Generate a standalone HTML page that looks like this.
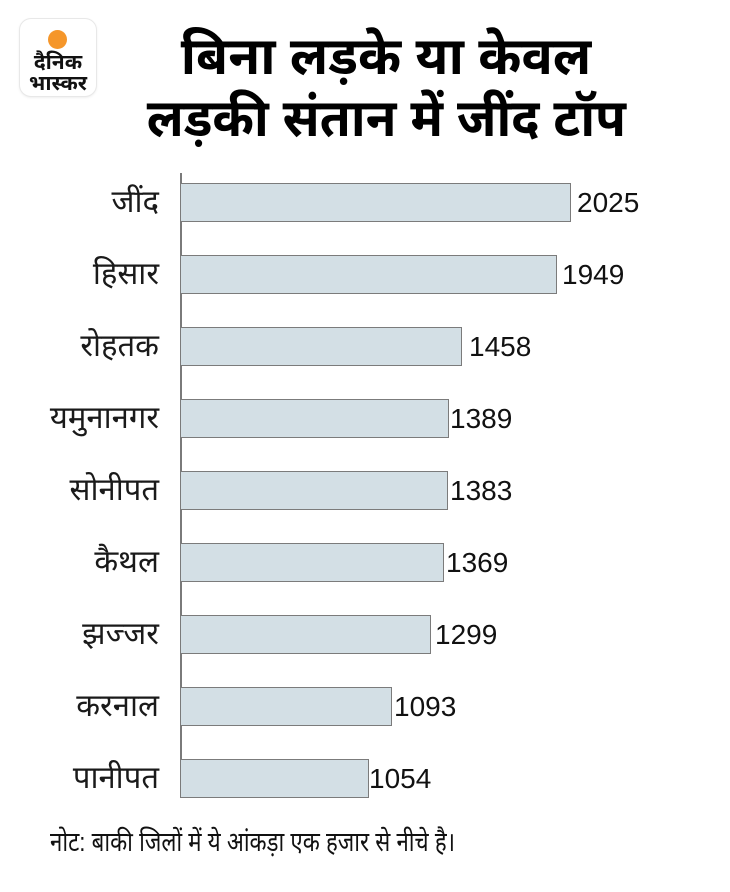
<!DOCTYPE html>
<html>
<head>
<meta charset="utf-8">
<style>
  html,body{margin:0;padding:0;background:#fff;}
  body{width:730px;height:892px;position:relative;overflow:hidden;
    font-family:"Liberation Sans","Noto Sans Devanagari","Lohit Devanagari","Mukta","Hind","FreeSans","DejaVu Sans",sans-serif;color:#111;}
  .logo{position:absolute;left:20px;top:19px;width:76px;height:77px;border-radius:11px;
    background:#fff;box-shadow:0 0 0 1px #e8e8e8,0 1px 3px rgba(0,0,0,0.12);}
  .logo .dot{position:absolute;width:19px;height:19px;border-radius:50%;background:#f5962a;}
  .logo .t{position:absolute;left:-10px;width:96px;text-align:center;font-weight:bold;font-size:21px;line-height:21px;color:#111;}
  .title{position:absolute;left:86px;width:600px;text-align:center;font-weight:bold;font-size:52px;line-height:62px;color:#000;white-space:nowrap;}
  .axis{position:absolute;left:180px;top:173px;width:2px;height:625px;background:#7a7a7a;}
  .bar{position:absolute;left:181px;height:37px;background:#d3dfe5;border:1px solid #7b7b7b;border-left:none;}
  .val{position:absolute;font-size:28px;line-height:39px;height:39px;color:#111;white-space:nowrap;}
  .cat{position:absolute;right:571px;font-size:31px;line-height:39px;height:39px;color:#1a1a1a;text-align:right;white-space:nowrap;}
  .note{position:absolute;left:50px;top:822px;font-size:27px;line-height:40px;color:#111;white-space:nowrap;transform:scaleX(0.823);transform-origin:0 0;}
</style>
</head>
<body>
  <div class="logo">
    <div class="dot" style="left:28px;top:11px;"></div>
    <div class="t" style="top:33px;">दैनिक</div>
    <div class="t" style="top:54px;">भास्कर</div>
  </div>

  <div class="title" style="top:26px;">बिना लड़के या केवल</div>
  <div class="title" style="top:88px;"><span style="display:inline-block;transform:scaleX(0.965);">लड़की संतान में जींद टॉप</span></div>

  <div class="axis"></div>

  <div class="bar" style="top:183px;width:389px;"></div>
  <div class="bar" style="top:255px;width:375px;"></div>
  <div class="bar" style="top:327px;width:280px;"></div>
  <div class="bar" style="top:399px;width:267px;"></div>
  <div class="bar" style="top:471px;width:266px;"></div>
  <div class="bar" style="top:543px;width:262px;"></div>
  <div class="bar" style="top:615px;width:249px;"></div>
  <div class="bar" style="top:687px;width:210px;"></div>
  <div class="bar" style="top:759px;width:187px;"></div>

  <div class="val" style="top:183px;left:577px;">2025</div>
  <div class="val" style="top:255px;left:562px;">1949</div>
  <div class="val" style="top:327px;left:469px;">1458</div>
  <div class="val" style="top:399px;left:450px;">1389</div>
  <div class="val" style="top:471px;left:450px;">1383</div>
  <div class="val" style="top:543px;left:446px;">1369</div>
  <div class="val" style="top:615px;left:435px;">1299</div>
  <div class="val" style="top:687px;left:394px;">1093</div>
  <div class="val" style="top:759px;left:369px;">1054</div>

  <div class="cat" style="top:182px;">जींद</div>
  <div class="cat" style="top:254px;">हिसार</div>
  <div class="cat" style="top:326px;">रोहतक</div>
  <div class="cat" style="top:398px;">यमुनानगर</div>
  <div class="cat" style="top:470px;">सोनीपत</div>
  <div class="cat" style="top:542px;">कैथल</div>
  <div class="cat" style="top:614px;">झज्जर</div>
  <div class="cat" style="top:686px;">करनाल</div>
  <div class="cat" style="top:758px;">पानीपत</div>

  <div class="note">नोट: बाकी जिलों में ये आंकड़ा एक हजार से नीचे है।</div>
</body>
</html>
